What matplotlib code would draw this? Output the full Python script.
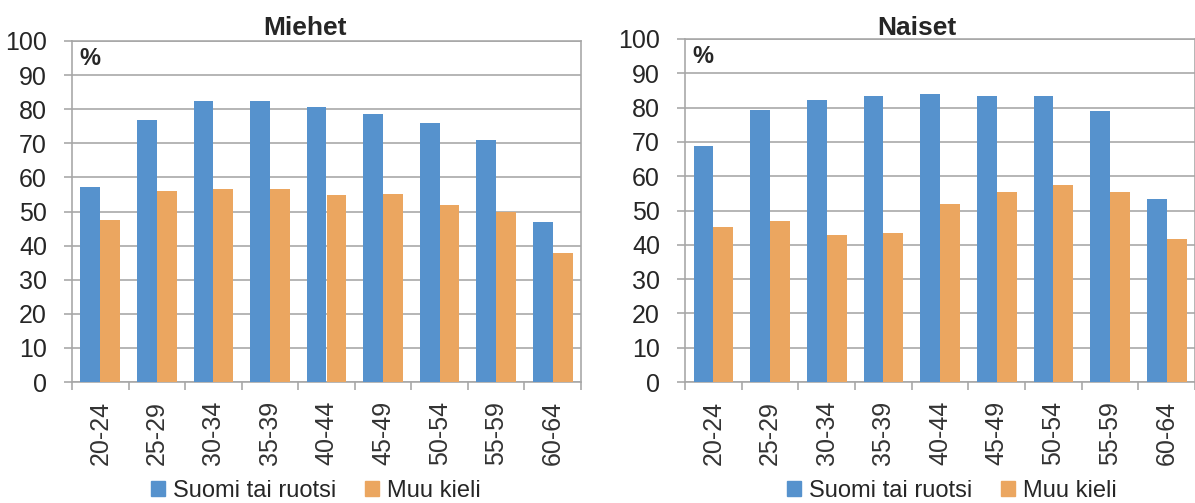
import matplotlib
matplotlib.use("Agg")
import matplotlib.pyplot as plt
from matplotlib.patches import Patch
import numpy as np

categories = ["20-24", "25-29", "30-34", "35-39", "40-44", "45-49", "50-54", "55-59", "60-64"]
miehet_suomi = [57.1, 76.9, 82.5, 82.5, 80.6, 78.7, 75.9, 71.0, 47.0]
miehet_muu = [47.4, 56.0, 56.6, 56.6, 54.9, 55.1, 51.9, 50.0, 37.9]
naiset_suomi = [68.8, 79.4, 82.2, 83.3, 84.0, 83.3, 83.3, 79.0, 53.4]
naiset_muu = [45.2, 46.9, 42.8, 43.4, 52.0, 55.3, 57.3, 55.4, 41.7]
series_names = ["Suomi tai ruotsi", "Muu kieli"]
titles = ["Miehet", "Naiset"]
yticks = list(range(0, 101, 10))

FONT = "Liberation Sans"
BLUE = "#5692CD"
ORANGE = "#EBA660"
GRID = "#a6a6a6"
TXT = "#262626"

W, H = 1195, 503
fig = plt.figure(figsize=(W / 100, H / 100), dpi=100)
PT = 72 / 100  # points per pixel


def px_axes(x0, x1, ytop, ybot):
    return fig.add_axes([x0 / W, (H - ybot) / H, (x1 - x0) / W, (ybot - ytop) / H])


def draw(ax, title, title_x, s1, s2, legend_center):
    x = np.arange(len(categories))
    bw = 0.35
    ax.bar(x - bw / 2, s1, bw, color=BLUE, zorder=3, label=series_names[0])
    ax.bar(x + bw / 2, s2, bw, color=ORANGE, zorder=3, label=series_names[1])
    ax.set_xlim(-0.5, len(categories) - 0.5)
    ax.set_ylim(0, 100)
    ax.set_yticks(yticks)
    ax.set_yticklabels([str(v) for v in yticks], fontfamily=FONT, fontsize=18, color=TXT)
    ax.yaxis.grid(True, color=GRID, linewidth=1.6 * PT * 1.0, zorder=0)
    ax.tick_params(axis="y", length=8 * PT, width=1.6 * PT, color=GRID, pad=17 * PT)
    ax.set_xticks(x)
    ax.set_xticklabels(categories, rotation=90, fontfamily=FONT, fontsize=18, color="#333333")
    ax.tick_params(axis="x", which="major", length=0, pad=19 * PT)
    ax.set_xticks(np.arange(-0.5, len(categories), 1.0), minor=True)
    ax.tick_params(axis="x", which="minor", length=8 * PT, width=1.6 * PT, color=GRID)
    for sp in ax.spines.values():
        sp.set_color(GRID)
        sp.set_linewidth(1.6 * PT)
    fig.text(title_x / W, (H - 35) / H, title, fontfamily=FONT, fontweight="bold", fontsize=19,
             color=TXT, ha="center", va="baseline")
    ax.annotate("%", xy=(0, 1), xycoords="axes fraction", xytext=(7.5, -6), textcoords="offset pixels",
                fontfamily=FONT, fontweight="bold", fontsize=17, color=TXT, va="top", ha="left")
    handles = [Patch(color=BLUE), Patch(color=ORANGE)]
    fig.legend(handles, series_names, loc="center", bbox_to_anchor=(legend_center / W, (H - 491) / H),
               ncol=2, frameon=False, prop={"family": FONT, "size": 17}, handlelength=0.6,
               handleheight=0.6, handletextpad=0.35, columnspacing=1.2, labelcolor=TXT,
               borderpad=0, borderaxespad=0)


ax1 = px_axes(72, 581, 41, 382)
draw(ax1, titles[0], 305, miehet_suomi, miehet_muu, 316)
ax2 = px_axes(685, 1195, 39, 382)
draw(ax2, titles[1], 917, naiset_suomi, naiset_muu, 952)

fig.savefig("out.png", dpi=100)
